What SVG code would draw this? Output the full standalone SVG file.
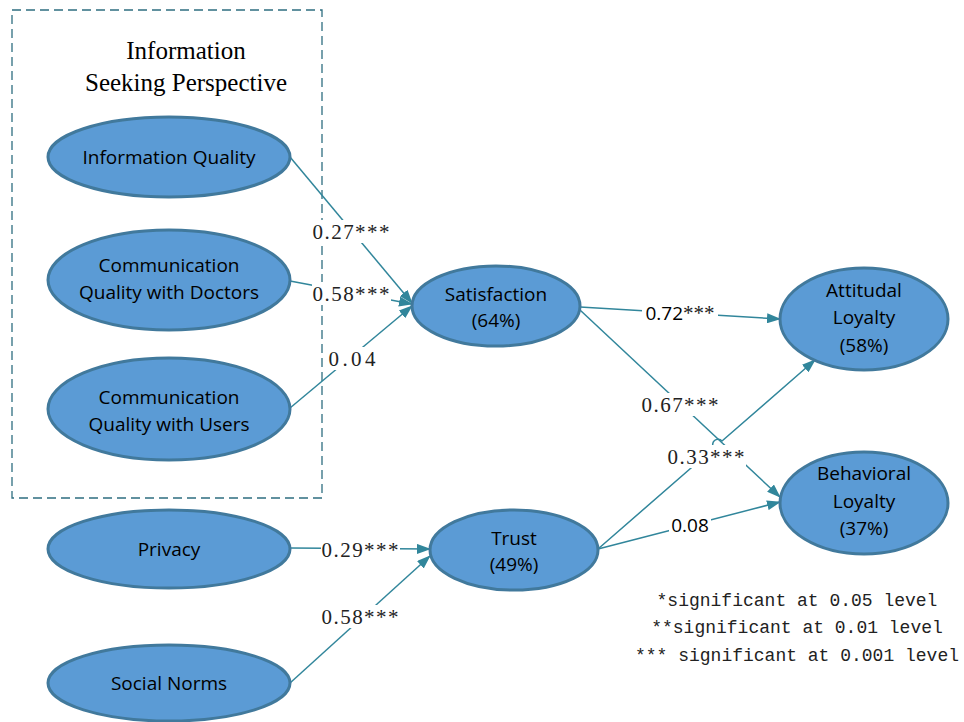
<svg xmlns="http://www.w3.org/2000/svg" width="964" height="722" viewBox="0 0 964 722">
  <style>
    .node ellipse { fill: #5b9bd5; stroke: #41799c; stroke-width: 3; }
    .node text { font-family: "Open Sans", "Liberation Sans", Arial, sans-serif; font-size: 19px; fill: #000; text-anchor: middle; }
    .edge { stroke: #31869b; stroke-width: 1.5; fill: none; }
    .lbl-bg { fill: #fff; }
    .lbl { font-family: "Liberation Serif", "Times New Roman", serif; font-size: 21px; fill: #222; text-anchor: middle; }
    .lbl-sans { font-family: "Open Sans", "Liberation Sans", Arial, sans-serif; font-size: 19px; fill: #000; }
    .title { font-family: "Liberation Serif", "Times New Roman", serif; font-size: 25px; fill: #000; text-anchor: middle; }
    .legend { font-family: "Liberation Mono", "Courier New", monospace; font-size: 18px; fill: #222; text-anchor: middle; }
  </style>
  <defs>
    <marker id="arrow" viewBox="0 0 14 10" refX="13" refY="5" markerWidth="14" markerHeight="10" markerUnits="userSpaceOnUse" orient="auto">
      <path d="M0,0 L14,5 L0,10 Z" fill="#31869b"/>
    </marker>
  </defs>

  <rect width="964" height="722" fill="#fff"/>

  <!-- group frame -->
  <rect x="12" y="10" width="310" height="488" fill="none" stroke="#2e6e80" stroke-width="1.3" stroke-dasharray="9,5"/>
  <text class="title" x="186" y="59">Information</text>
  <text class="title" x="186" y="91">Seeking Perspective</text>

  <!-- connectors -->
  <g id="connectors">
    <line class="edge" x1="290" y1="157" x2="412" y2="303" marker-end="url(#arrow)"/>
    <line class="edge" x1="290" y1="281" x2="412" y2="304" marker-end="url(#arrow)"/>
    <line class="edge" x1="290" y1="408" x2="412" y2="306" marker-end="url(#arrow)"/>
    <line class="edge" x1="580" y1="307" x2="780" y2="319" marker-end="url(#arrow)"/>
    <line class="edge" x1="580" y1="310" x2="780" y2="497" marker-end="url(#arrow)"/>
    <path class="edge" d="M598,549 L714,448 A4,4 0 0 1 722,441 L815,360" marker-end="url(#arrow)"/>
    <line class="edge" x1="598" y1="549" x2="780" y2="502" marker-end="url(#arrow)"/>
    <line class="edge" x1="290" y1="548" x2="430" y2="549" marker-end="url(#arrow)"/>
    <line class="edge" x1="290" y1="683" x2="430" y2="556" marker-end="url(#arrow)"/>

    <!-- path coefficients -->
    <rect class="lbl-bg" x="312" y="220" width="79" height="23"/>
    <text class="lbl" x="351" y="239" textLength="77" lengthAdjust="spacing">0.27***</text>
    <rect class="lbl-bg" x="312" y="282" width="79" height="23"/>
    <text class="lbl" x="351" y="301" textLength="77" lengthAdjust="spacing">0.58***</text>
    <rect class="lbl-bg" x="326" y="347" width="52" height="23"/>
    <text class="lbl" x="352" y="366" textLength="47" lengthAdjust="spacing">0.04</text>
    <rect class="lbl-bg" x="642" y="302" width="76" height="23"/>
    <text class="lbl" x="680" y="320"><tspan class="lbl-sans">0.72</tspan>***</text>
    <rect class="lbl-bg" x="641" y="393" width="79" height="23"/>
    <text class="lbl" x="680" y="412" textLength="77" lengthAdjust="spacing">0.67***</text>
    <rect class="lbl-bg" x="667" y="445" width="79" height="23"/>
    <text class="lbl" x="706" y="464" textLength="77" lengthAdjust="spacing">0.33***</text>
    <rect class="lbl-bg" x="669" y="514" width="42" height="23"/>
    <text class="lbl lbl-sans" x="690" y="532" text-anchor="middle">0.08</text>
    <rect class="lbl-bg" x="321" y="538" width="79" height="23"/>
    <text class="lbl" x="360" y="557" textLength="77" lengthAdjust="spacing">0.29***</text>
    <rect class="lbl-bg" x="321" y="605" width="79" height="23"/>
    <text class="lbl" x="360" y="624" textLength="77" lengthAdjust="spacing">0.58***</text>
  </g>

  <!-- constructs -->
  <g id="info-quality" class="node">
    <ellipse cx="169" cy="157" rx="121" ry="40"/>
    <text x="169" y="164">Information Quality</text>
  </g>
  <g id="comm-doctors" class="node">
    <ellipse cx="169" cy="280" rx="121" ry="50"/>
    <text x="169" y="272">Communication</text>
    <text x="169" y="299">Quality with Doctors</text>
  </g>
  <g id="comm-users" class="node">
    <ellipse cx="169" cy="409" rx="121" ry="51"/>
    <text x="169" y="404">Communication</text>
    <text x="169" y="431">Quality with Users</text>
  </g>
  <g id="privacy" class="node">
    <ellipse cx="169" cy="549" rx="121" ry="39"/>
    <text x="169" y="556">Privacy</text>
  </g>
  <g id="social-norms" class="node">
    <ellipse cx="169" cy="683" rx="121" ry="38"/>
    <text x="169" y="690">Social Norms</text>
  </g>
  <g id="satisfaction" class="node">
    <ellipse cx="496" cy="306" rx="84" ry="40"/>
    <text x="496" y="301">Satisfaction</text>
    <text x="496" y="327">(64%)</text>
  </g>
  <g id="trust" class="node">
    <ellipse cx="514" cy="550" rx="84" ry="40"/>
    <text x="514" y="545">Trust</text>
    <text x="514" y="571">(49%)</text>
  </g>
  <g id="attitudinal-loyalty" class="node">
    <ellipse cx="864" cy="319" rx="84" ry="51"/>
    <text x="864" y="297">Attitudal</text>
    <text x="864" y="324">Loyalty</text>
    <text x="864" y="352">(58%)</text>
  </g>
  <g id="behavioral-loyalty" class="node">
    <ellipse cx="864" cy="503" rx="84" ry="51"/>
    <text x="864" y="480">Behavioral</text>
    <text x="864" y="508">Loyalty</text>
    <text x="864" y="535">(37%)</text>
  </g>

  <!-- significance legend -->
  <text class="legend" x="797" y="606">*significant at 0.05 level</text>
  <text class="legend" x="797" y="633">**significant at 0.01 level</text>
  <text class="legend" x="797" y="661">*** significant at 0.001 level</text>
</svg>
